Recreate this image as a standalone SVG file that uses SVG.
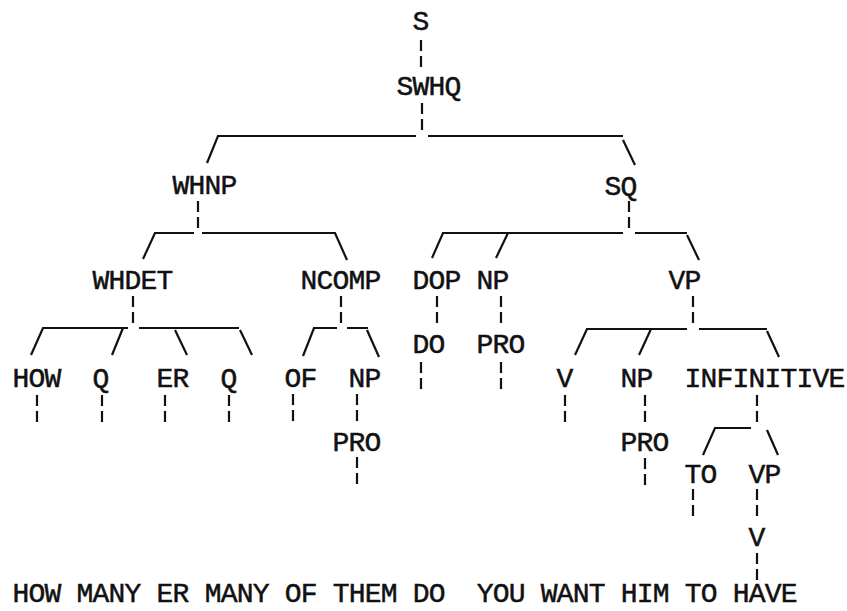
<svg xmlns="http://www.w3.org/2000/svg" width="847" height="611" viewBox="0 0 847 611">
<style>
text{font-family:"Liberation Mono","DejaVu Sans Mono",monospace;font-size:28px;letter-spacing:-0.8px;fill:#111;stroke:#111;stroke-width:0.5px}
.d{stroke:#111;stroke-width:2.2;stroke-dasharray:11 5;fill:none}
.l{stroke:#111;stroke-width:2.2;fill:none}
</style>
<rect width="847" height="611" fill="#fff"/>
<g id="connectors">
<line class="d" x1="421" y1="40" x2="421" y2="67"/>
<line class="d" x1="422" y1="103" x2="422" y2="132"/>
<path class="l" d="M207,163 L218,136 L416,136 M428,136 L623,136 M623,140 L635,165"/>
<line class="d" x1="198" y1="201" x2="198" y2="228"/>
<path class="l" d="M143,259 L155,233 L194,233 M202,233 L335,233 L347,260"/>
<line class="d" x1="629" y1="201" x2="629" y2="229"/>
<path class="l" d="M432,258 L443,233 L623,233 M508,233 L496,258 M635,233 L687,233 M687,235 L699,260"/>
<line class="d" x1="133" y1="296" x2="133" y2="324"/>
<path class="l" d="M31,355 L43,328 L128,328 M123,328 L112,355 M139,328 L239,328 M175,330 L187,355 M240,330 L252,355"/>
<line class="d" x1="341" y1="296" x2="341" y2="324"/>
<path class="l" d="M303,356 L314,328 L337,328 M347,328 L368,328 M367,330 L379,357"/>
<line class="d" x1="437" y1="296" x2="437" y2="323"/>
<line class="d" x1="501" y1="296" x2="501" y2="323"/>
<line class="d" x1="693" y1="296" x2="693" y2="325"/>
<path class="l" d="M575,355 L587,329 L687,329 M651,329 L639,355 M699,329 L767,329 M767,331 L779,357"/>
<line class="d" x1="421" y1="362" x2="421" y2="390"/>
<line class="d" x1="501" y1="362" x2="501" y2="390"/>
<line class="d" x1="37" y1="395" x2="37" y2="422"/>
<line class="d" x1="102" y1="395" x2="102" y2="422"/>
<line class="d" x1="165" y1="395" x2="165" y2="422"/>
<line class="d" x1="229" y1="395" x2="229" y2="422"/>
<line class="d" x1="293" y1="394" x2="293" y2="422"/>
<line class="d" x1="357" y1="394" x2="357" y2="423"/>
<line class="d" x1="565" y1="395" x2="565" y2="423"/>
<line class="d" x1="645" y1="395" x2="645" y2="423"/>
<line class="d" x1="757" y1="395" x2="757" y2="423"/>
<path class="l" d="M703,455 L715,428 L751,428 M767,430 L778,455"/>
<line class="d" x1="357" y1="457" x2="357" y2="485"/>
<line class="d" x1="645" y1="458" x2="645" y2="487"/>
<line class="d" x1="693" y1="489" x2="693" y2="517"/>
<line class="d" x1="757" y1="489" x2="757" y2="518"/>
<line class="d" x1="757" y1="553" x2="757" y2="580"/>
</g>
<g id="n-S"><text x="412.6" y="30">S</text></g>
<g id="n-SWHQ"><text x="396.6" y="95">SWHQ</text></g>
<g id="n-WHNP"><text x="172.6" y="194">WHNP</text></g>
<g id="n-SQ"><text x="604.6" y="195">SQ</text></g>
<g id="n-WHDET"><text x="92.6" y="289">WHDET</text></g>
<g id="n-NCOMP"><text x="300.6" y="289">NCOMP</text></g>
<g id="n-DOP"><text x="412.6" y="289">DOP</text></g>
<g id="n-NP1"><text x="476.6" y="289">NP</text></g>
<g id="n-VP1"><text x="668.6" y="289">VP</text></g>
<g id="n-DO"><text x="412.6" y="353">DO</text></g>
<g id="n-PRO1"><text x="476.6" y="353">PRO</text></g>
<g id="n-HOW"><text x="12.6" y="387">HOW</text></g>
<g id="n-Q1"><text x="92.6" y="387">Q</text></g>
<g id="n-ER"><text x="156.6" y="387">ER</text></g>
<g id="n-Q2"><text x="220.6" y="387">Q</text></g>
<g id="n-OF"><text x="284.6" y="387">OF</text></g>
<g id="n-NP2"><text x="348.6" y="387">NP</text></g>
<g id="n-V1"><text x="556.6" y="387">V</text></g>
<g id="n-NP3"><text x="620.6" y="387">NP</text></g>
<g id="n-INFINITIVE"><text x="684.6" y="387">INFINITIVE</text></g>
<g id="n-PRO2"><text x="332.6" y="451">PRO</text></g>
<g id="n-PRO3"><text x="620.6" y="451">PRO</text></g>
<g id="n-TO"><text x="684.6" y="483">TO</text></g>
<g id="n-VP2"><text x="748.6" y="483">VP</text></g>
<g id="n-V2"><text x="748.6" y="546">V</text></g>
<g id="sentence"><text x="12.6" y="602" xml:space="preserve">HOW MANY ER MANY OF THEM DO  YOU WANT HIM TO HAVE</text></g>
</svg>
